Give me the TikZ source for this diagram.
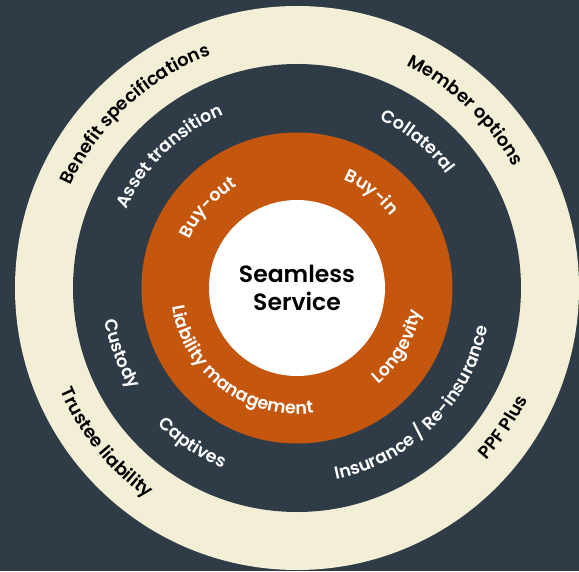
\documentclass[tikz,border=0pt]{standalone}
\usepackage{fontspec}
\usetikzlibrary{decorations.text}
\newfontfamily\medfont{Poppins Medium}
\newfontfamily\sbfont{Poppins SemiBold}
\definecolor{bgslate}{HTML}{2F3C48}
\definecolor{creamring}{HTML}{F2EFD6}
\definecolor{orangering}{HTML}{C4570D}
\newcommand\ringtop[4]{% radius, mid angle, format, text
  \path[decorate, decoration={text along path, text align=center, text={|#3|#4}}]
    (#2+80:#1) arc[start angle=#2+80, end angle=#2-80, radius=#1];}
\newcommand\ringbot[4]{%
  \path[decorate, decoration={text along path, text align=center, text={|#3|#4}}]
    (#2-80:#1) arc[start angle=#2-80, end angle=#2+80, radius=#1];}
\newcommand\darkfmt{\sbfont\fontsize{18}{20}\selectfont\color{black}}
\newcommand\litefmt{\sbfont\fontsize{17.5}{20}\selectfont\color{white}}
\begin{document}
\begin{tikzpicture}[x=1pt,y=1pt]
\useasboundingbox[fill=bgslate] (-297,-283) rectangle (282,288);
\fill[creamring] (0,0) circle (282);
\fill[bgslate] (0,0) circle (224);
\fill[orangering] (0,0) circle (155.5);
\fill[white] (0,0) circle (88);
\node[font=\sbfont\fontsize{23.5}{28}\selectfont, align=center] (core) at (0,0) {Seamless\\Service};
% cream ring
\ringtop{248}{133}{\darkfmt}{Benefit specifications}
\ringtop{248}{46.5}{\darkfmt}{Member options}
\ringbot{258}{219}{\darkfmt}{Trustee liability}
\ringbot{256}{-34}{\darkfmt}{PPF Plus}
% dark ring
\ringtop{188}{134}{\litefmt}{Asset transition}
\ringtop{188}{50.5}{\litefmt}{Collateral}
\ringbot{195}{200.5}{\litefmt}{Custody}
\ringbot{195}{236}{\litefmt}{Captives}
\ringbot{195}{-45}{\litefmt}{Insurance / Re-insurance}
% orange ring
\ringtop{118}{138}{\litefmt}{Buy-out}
\ringtop{118}{52}{\litefmt}{Buy-in}
\ringbot{126}{233}{\litefmt}{Liability management}
\ringbot{126}{-30}{\litefmt}{Longevity}
\end{tikzpicture}
\end{document}
